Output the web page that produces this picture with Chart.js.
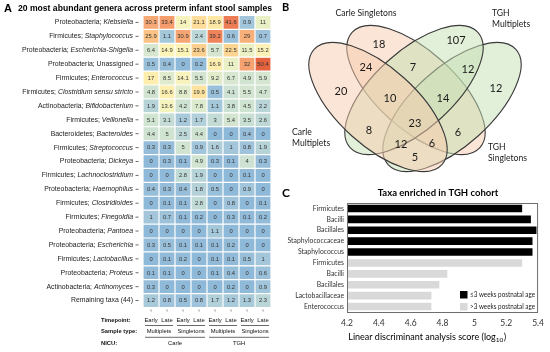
<!DOCTYPE html>
<html>
<head>
<meta charset="utf-8">
<script src="https://cdn.jsdelivr.net/npm/chart.js@4"></script>
<style>
  html, body { margin: 0; padding: 0; background: #fff; }
  #wrap { position: relative; width: 550px; height: 352px; overflow: hidden; }
  .pane { position: absolute; }
</style>
</head>
<body>
<div id="wrap">
  <div class="pane" style="left:0;top:0"><canvas id="heat" width="278" height="352"></canvas></div>
  <div class="pane" style="left:278px;top:0"><canvas id="venn" width="272" height="185"></canvas></div>
  <div class="pane" style="left:278px;top:185px"><canvas id="lda" width="272" height="167"></canvas></div>
</div>
<script>
// ---------- Panel A: heatmap data ----------
const taxaPhylum = ['Proteobacteria', 'Firmicutes', 'Proteobacteria', 'Proteobacteria', 'Firmicutes',
  'Firmicutes', 'Actinobacteria', 'Firmicutes', 'Bacteroidetes', 'Firmicutes', 'Proteobacteria',
  'Firmicutes', 'Proteobacteria', 'Firmicutes', 'Firmicutes', 'Proteobacteria', 'Proteobacteria',
  'Firmicutes', 'Proteobacteria', 'Actinobacteria', ''];
const taxaGenus = ['Klebsiella', 'Staphylococcus', 'Escherichia-Shigella', 'Unassigned', 'Enterococcus',
  'Clostridium sensu stricto', 'Bifidobacterium', 'Veillonella', 'Bacteroides', 'Streptococcus', 'Dickeya',
  'Lachnoclostridium', 'Haemophilus', 'Clostridioides', 'Finegoldia', 'Pantoea', 'Escherichia',
  'Lactobacillus', 'Proteus', 'Actinomyces', 'Remaining taxa (44)'];

const timepoints = ['Early', 'Late', 'Early', 'Late', 'Early', 'Late', 'Early', 'Late'];
const sampleTypes = ['Multiplets', 'Singletons', 'Multiplets', 'Singletons'];
const nicus = ['Carle', 'TGH'];

// relative abundance (%) per column
const carleMultEarly = [30.3, 25.9, 6.4, 0.5, 17, 4.8, 1.9, 5.1, 4.4, 0.3, 0, 0, 0.4, 0, 1, 0, 0.3, 0, 0.1, 0.3, 1.2];
const carleMultLate  = [33.4, 1.1, 14.9, 0.4, 8.5, 16.6, 13.6, 3.1, 5, 0.3, 0.3, 0, 0.3, 0.1, 0.7, 0, 0.5, 0.1, 0.1, 0, 0.8];
const carleSingEarly = [14, 30.9, 15.1, 0, 14.1, 8.8, 4.2, 1.2, 2.5, 5, 0.1, 2.8, 0.4, 0.1, 0.1, 0, 0.1, 0.2, 0, 0, 0.5];
const carleSingLate  = [21.1, 2.4, 23.6, 0.2, 5.5, 19.9, 7.8, 1.7, 4.4, 0.9, 4.9, 1.9, 1.8, 2.8, 0.2, 0, 0.1, 0, 0, 0, 0.8];
const tghMultEarly   = [18.9, 39.2, 5.7, 16.9, 9.2, 0.5, 1.1, 3, 0, 1.6, 0.3, 0, 0.5, 0, 0, 1.1, 0.1, 0.1, 0.1, 0, 1.7];
const tghMultLate    = [41.6, 0.6, 22.5, 11, 6.7, 4.1, 3.8, 5.4, 0, 1, 0.1, 0, 0, 0.8, 0.3, 0, 0.2, 0.1, 0.4, 0.2, 1.2];
const tghSingEarly   = [0.9, 29, 11.5, 32, 4.9, 5.5, 4.5, 3.5, 0.4, 0.8, 4, 0.1, 0.9, 0, 0.1, 0, 0, 0.5, 0, 0, 1.3];
const tghSingLate    = [11, 0.7, 15.2, 50.4, 5.9, 4.7, 2.2, 2.6, 0, 1.9, 0.3, 0, 0, 0.1, 0.2, 0, 0, 1, 0.6, 0.9, 2.3];
const heatColumns = [carleMultEarly, carleMultLate, carleSingEarly, carleSingLate,
  tghMultEarly, tghMultLate, tghSingEarly, tghSingLate];

// ---------- Panel B: Venn data ----------
const vennSets = ['Carle Multiplets', 'Carle Singletons', 'TGH Multiplets', 'TGH Singletons'];
const vennCounts = [20, 18, 107, 12, 24, 7, 12, 10, 14, 23, 8, 6, 12, 6, 5];

// ---------- Panel C: LDA data ----------
const ldaTaxa = ['Firmicutes', 'Bacilli', 'Bacillales', 'Staphylococcaceae', 'Staphylococcus',
  'Firmicutes', 'Bacilli', 'Bacillales', 'Lactobacillaceae', 'Enterococcus'];
const ldaEarly = [5.30, 5.355, 5.39, 5.365, 5.365, null, null, null, null, null];
const ldaLate  = [null, null, null, null, null, 5.30, 4.83, 4.78, 4.73, 4.73];
const ldaGroups = ['\u22643 weeks postnatal age', '>3 weeks postnatal age'];

// ---------- styling / layout ----------
const heatStops = [[0, [143, 185, 217]], [1, [163, 198, 218]], [2, [184, 212, 216]], [4, [205, 226, 210]],
  [8, [221, 234, 205]], [12, [238, 242, 196]], [15, [252, 243, 184]], [19, [254, 232, 163]],
  [24, [251, 205, 140]], [30, [247, 170, 118]], [40, [238, 128, 88]], [50, [229, 98, 62]]];

function heatColor(v) {
  let i = 0;
  while (i < heatStops.length - 2 && v > heatStops[i + 1][0]) i++;
  const [v0, c0] = heatStops[i], [v1, c1] = heatStops[i + 1];
  const t = Math.max(0, Math.min(1, (v - v0) / (v1 - v0)));
  const c = c0.map((a, k) => Math.round(a + (c1[k] - a) * t));
  return `rgb(${c[0]},${c[1]},${c[2]})`;
}

const SANS = '"Liberation Sans", Arial, sans-serif';
const CAL = 'Lato, "Open Sans", sans-serif';

// heatmap decorations: title, row labels, cell values, column annotations
const heatDecor = {
  id: 'heatDecor',
  afterDraw(chart) {
    const ctx = chart.ctx;
    const xs = chart.scales.x, ys = chart.scales.y;
    ctx.save();
    ctx.fillStyle = '#000';
    ctx.textBaseline = 'middle';
    ctx.textAlign = 'left';
    ctx.font = 'bold 11px ' + SANS;
    ctx.fillText('A', 4, 9);
    ctx.font = 'bold 8.6px ' + SANS;
    ctx.fillText('20 most abundant genera across preterm infant stool samples', 18, 9);

    // row labels
    taxaGenus.forEach((g, i) => {
      const py = ys.getPixelForValue(i);
      const italic = taxaPhylum[i] && g !== 'Unassigned';
      ctx.fillStyle = '#222';
      ctx.textAlign = 'right';
      ctx.font = (italic ? 'italic ' : '') + '6.9px ' + SANS;
      const gw = ctx.measureText(g).width;
      ctx.fillText(g, 133, py);
      if (taxaPhylum[i]) {
        ctx.font = '6.9px ' + SANS;
        ctx.fillText(taxaPhylum[i] + '; ', 133 - gw, py);
      }
      ctx.strokeStyle = '#444';
      ctx.lineWidth = 0.8;
      ctx.beginPath();
      ctx.moveTo(135.5, py); ctx.lineTo(138.5, py);
      ctx.stroke();
    });

    // cell values
    ctx.font = '5.8px ' + SANS;
    ctx.textAlign = 'center';
    ctx.fillStyle = '#333';
    chart.data.datasets.forEach((ds, c) => {
      chart.getDatasetMeta(c).data.forEach((el, r) => {
        ctx.fillText(String(ds.heat[r]), (el.x + el.base) / 2, el.y + 0.3);
      });
    });

    // column annotations
    const bottom = chart.chartArea.bottom;
    const colX = c => xs.getPixelForValue(c + 0.5);
    const edge = c => xs.getPixelForValue(c);
    ctx.strokeStyle = '#444';
    ctx.lineWidth = 0.6;
    timepoints.forEach((t, c) => {
      ctx.beginPath();
      ctx.moveTo(colX(c), bottom + 2); ctx.lineTo(colX(c), bottom + 4);
      ctx.stroke();
    });
    ctx.fillStyle = '#111';
    ctx.font = '5.8px ' + SANS;
    timepoints.forEach((t, c) => ctx.fillText(t, colX(c), 320));
    ctx.lineWidth = 0.8;
    sampleTypes.forEach((s, k) => {
      ctx.beginPath();
      ctx.moveTo(edge(2 * k) + 2, 325.5); ctx.lineTo(edge(2 * k + 2) - 2, 325.5);
      ctx.stroke();
      ctx.fillText(s, (edge(2 * k) + edge(2 * k + 2)) / 2, 331);
    });
    nicus.forEach((n, k) => {
      ctx.beginPath();
      ctx.moveTo(edge(4 * k) + 2, 337.3); ctx.lineTo(edge(4 * k + 4) - 2, 337.3);
      ctx.stroke();
      ctx.fillText(n, (edge(4 * k) + edge(4 * k + 4)) / 2, 343.5);
    });
    ctx.textAlign = 'left';
    ctx.font = 'bold 5.8px ' + SANS;
    ctx.fillText('Timepoint:', 101, 320);
    ctx.fillText('Sample type:', 101, 331);
    ctx.fillText('NICU:', 101, 343.5);
    ctx.restore();
  }
};

new Chart(document.getElementById('heat'), {
  type: 'bar',
  data: {
    labels: taxaGenus,
    datasets: heatColumns.map((vals, c) => ({
      label: timepoints[c],
      data: vals.map(() => 1),
      heat: vals,
      backgroundColor: ctx => heatColor(vals[ctx.dataIndex]),
      borderColor: '#fff',
      borderWidth: 0.6,
      borderSkipped: false,
      inflateAmount: 0,
      barPercentage: 1,
      categoryPercentage: 1
    }))
  },
  options: {
    indexAxis: 'y',
    responsive: false,
    animation: false,
    layout: { padding: { left: 143, right: 7, top: 15.5, bottom: 44.5 } },
    plugins: { legend: { display: false }, tooltip: { enabled: false } },
    scales: {
      x: { stacked: true, display: false, min: 0, max: 8 },
      y: { stacked: true, display: false }
    }
  },
  plugins: [heatDecor]
});

// ---------- Panel B ----------
// geometry in page pixels, mapped through the chart's scales
const vennEllipses = [
  { cx: 378, cy: 107, a: 86, b: 39, rot: 42, fill: 'rgba(248,203,173,0.5)' },
  { cx: 416, cy: 90, a: 86, b: 39, rot: 42, fill: 'rgba(248,203,173,0.5)' },
  { cx: 414, cy: 90, a: 86, b: 39, rot: -42, fill: 'rgba(197,224,180,0.5)' },
  { cx: 452, cy: 107, a: 86, b: 39, rot: -42, fill: 'rgba(197,224,180,0.5)' }
];
const vennDrawOrder = [1, 3, 2, 0];
const vennAnchors = [[341, 91], [379, 44], [456, 40], [496, 88], [366, 67], [413, 67], [468, 69],
  [390, 98], [443, 98], [415, 123], [369, 130], [458, 132], [401, 144], [432, 143], [415, 157]];
const vennSetLabels = [
  { x: 292, y: 132, align: 'left' }, { x: 366, y: 13, align: 'center' },
  { x: 492, y: 13, align: 'left' }, { x: 488, y: 147, align: 'left' }
];

const vennDecor = {
  id: 'vennDecor',
  beforeDatasetsDraw(chart) {
    const ctx = chart.ctx, xs = chart.scales.x, ys = chart.scales.y;
    ctx.save();
    vennDrawOrder.forEach(i => {
      const e = vennEllipses[i];
      const px = xs.getPixelForValue(e.cx), py = ys.getPixelForValue(e.cy);
      const rx = Math.abs(xs.getPixelForValue(e.cx + e.a) - px);
      const ry = Math.abs(ys.getPixelForValue(e.cy + e.b) - py);
      ctx.beginPath();
      ctx.ellipse(px, py, rx, ry, e.rot * Math.PI / 180, 0, Math.PI * 2);
      ctx.fillStyle = e.fill;
      ctx.fill();
      ctx.strokeStyle = '#3a3a3a';
      ctx.lineWidth = 1.1;
      ctx.stroke();
    });
    ctx.restore();
  },
  afterDatasetsDraw(chart) {
    const ctx = chart.ctx, xs = chart.scales.x, ys = chart.scales.y;
    ctx.save();
    ctx.fillStyle = '#1a1a1a';
    ctx.textBaseline = 'middle';
    ctx.textAlign = 'center';
    ctx.font = '11px ' + CAL;
    chart.getDatasetMeta(0).data.forEach((el, i) => {
      ctx.fillText(String(vennCounts[i]), el.x, el.y);
    });
    ctx.font = '8.6px ' + CAL;
    vennSets.forEach((s, i) => {
      const l = vennSetLabels[i];
      ctx.textAlign = l.align;
      const px = xs.getPixelForValue(l.x), py = ys.getPixelForValue(l.y);
      if (l.align === 'center') {
        ctx.fillText(s, px, py);
      } else {
        const parts = s.split(' ');
        ctx.fillText(parts[0], px, py);
        ctx.fillText(parts[1], px, py + 11.5);
      }
    });
    ctx.textAlign = 'left';
    ctx.fillStyle = '#000';
    ctx.font = 'bold 11px ' + CAL;
    ctx.fillText('B', 4, 7);
    ctx.restore();
  }
};

new Chart(document.getElementById('venn'), {
  type: 'scatter',
  data: {
    datasets: [{
      label: 'Shared genera',
      data: vennAnchors.map(p => ({ x: p[0], y: p[1] })),
      pointRadius: 0
    }]
  },
  options: {
    responsive: false,
    animation: false,
    layout: { padding: 0 },
    plugins: { legend: { display: false }, tooltip: { enabled: false } },
    scales: {
      x: { type: 'linear', min: 278, max: 550, display: false },
      y: { type: 'linear', min: 0, max: 185, reverse: true, display: false }
    }
  },
  plugins: [vennDecor]
});

// ---------- Panel C ----------
const ldaDecor = {
  id: 'ldaDecor',
  afterDraw(chart) {
    const ctx = chart.ctx, a = chart.chartArea;
    ctx.save();
    ctx.strokeStyle = '#6e6e6e';
    ctx.lineWidth = 1;
    ctx.strokeRect(a.left + 0.5, a.top + 0.5, a.right - a.left - 1, a.bottom - a.top);
    ctx.fillStyle = '#000';
    ctx.textBaseline = 'middle';
    ctx.textAlign = 'left';
    ctx.font = 'bold 12px ' + CAL;
    ctx.fillText('C', 4, 8);
    ctx.textAlign = 'center';
    ctx.font = 'bold 9.5px ' + CAL;
    ctx.fillText('Taxa enriched in TGH cohort', 160, 8);

    // axis title with subscript
    ctx.font = '9px ' + CAL;
    const main = 'Linear discriminant analysis score (log';
    const sub = '10', tail = ')';
    const w1 = ctx.measureText(main).width;
    ctx.font = '6.5px ' + CAL;
    const w2 = ctx.measureText(sub).width;
    ctx.font = '9px ' + CAL;
    const w3 = ctx.measureText(tail).width;
    const x0 = 149 - (w1 + w2 + w3) / 2;
    const y0 = 152;
    ctx.textAlign = 'left';
    ctx.fillText(main, x0, y0);
    ctx.font = '6.5px ' + CAL;
    ctx.fillText(sub, x0 + w1, y0 + 3);
    ctx.font = '9px ' + CAL;
    ctx.fillText(tail, x0 + w1 + w2 + 0.5, y0);

    // legend, text squeezed to fit inside the plot box
    const textLeft = 192, maxW = a.right - 3 - textLeft;
    chart.data.datasets.forEach((ds, i) => {
      const ly = 106 + i * 12;
      ctx.fillStyle = ds.backgroundColor;
      ctx.fillRect(182, ly, 7.5, 7.5);
      ctx.fillStyle = '#222';
      ctx.font = '7px ' + CAL;
      const w = ctx.measureText(ds.label).width;
      ctx.save();
      ctx.translate(textLeft, ly + 4);
      if (w > maxW) ctx.scale(maxW / w, 1);
      ctx.fillText(ds.label, 0, 0);
      ctx.restore();
    });
    ctx.restore();
  }
};

new Chart(document.getElementById('lda'), {
  type: 'bar',
  data: {
    labels: ldaTaxa,
    datasets: [
      { label: ldaGroups[0], data: ldaEarly, backgroundColor: '#000000' },
      { label: ldaGroups[1], data: ldaLate, backgroundColor: '#d9d9d9' }
    ]
  },
  options: {
    indexAxis: 'y',
    responsive: false,
    animation: false,
    datasets: { bar: { grouped: false, barPercentage: 0.7, categoryPercentage: 1, base: 4.2 } },
    layout: { padding: { left: 0, right: 9, top: 18, bottom: 0 } },
    plugins: { legend: { display: false }, tooltip: { enabled: false } },
    scales: {
      x: {
        min: 4.2, max: 5.4,
        ticks: { stepSize: 0.2, callback: v => String(+(+v).toFixed(1)), font: { family: CAL, size: 8.5 }, color: '#333', padding: 6 },
        grid: { display: false, drawTicks: false },
        border: { display: false },
        afterFit: s => { s.height = 40; }
      },
      y: {
        ticks: { font: { family: CAL, size: 6.8 }, color: '#333', padding: 3, autoSkip: false },
        grid: { display: false, drawTicks: false },
        border: { display: false },
        afterFit: s => { s.width = 69; }
      }
    }
  },
  plugins: [ldaDecor]
});
</script>
</body>
</html>
